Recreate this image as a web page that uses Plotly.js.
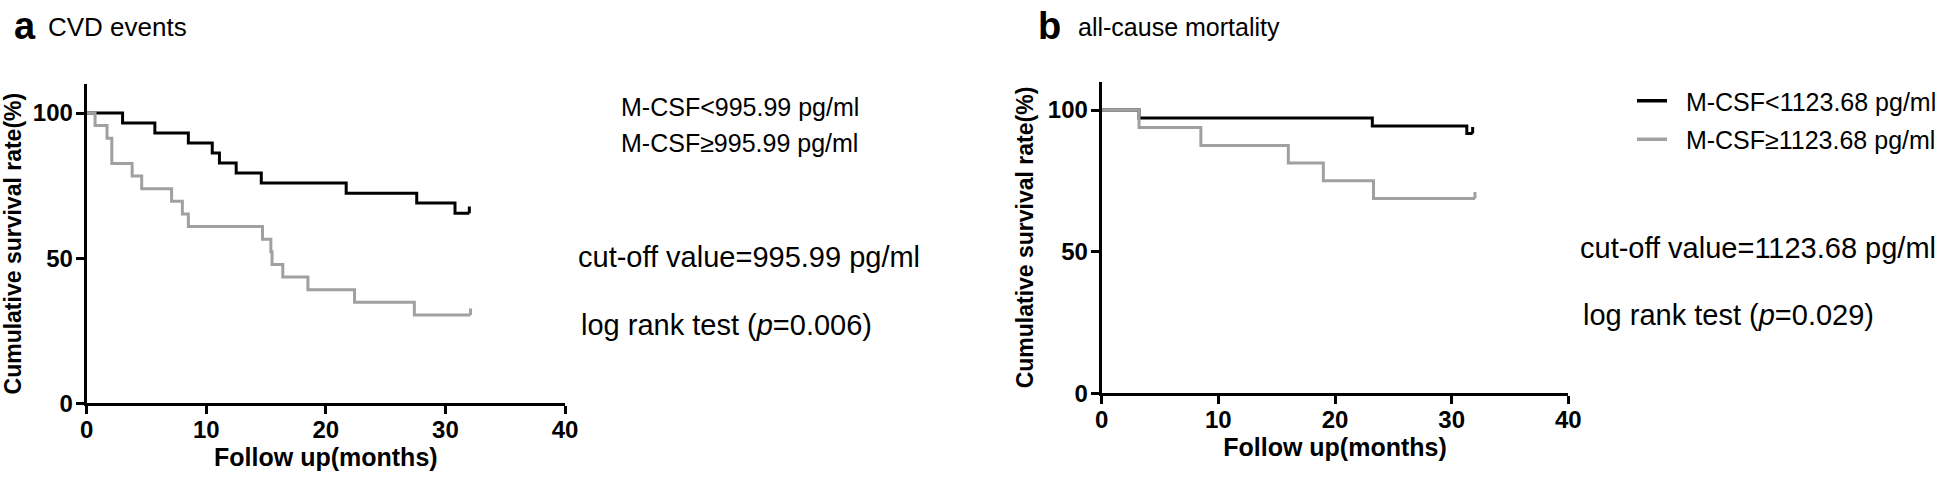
<!DOCTYPE html>
<html>
<head>
<meta charset="utf-8">
<script src="https://cdn.plot.ly/plotly-3.0.1.min.js"></script>
<style>
  html, body { margin: 0; padding: 0; background: #fff; }
  #chart { width: 1946px; height: 480px; }
</style>
</head>
<body>
<div id="chart"></div>
<script>
// Kaplan-Meier steps (months, survival %)
const cvdLowTimes = [3.0, 5.7, 8.5, 10.5, 11.1, 12.5, 14.6, 21.7, 27.6, 30.8];
const cvdLowSurv = [96.6, 93.1, 89.7, 86.2, 82.8, 79.3, 75.9, 72.4, 69.0, 65.5];
const cvdLowCensor = 32.0;

const cvdHighTimes = [0.7, 1.7, 2.1, 3.8, 4.6, 7.1, 8.0, 8.5, 14.7, 15.4, 15.5, 16.4, 18.5, 22.4, 27.4];
const cvdHighSurv = [95.7, 91.3, 82.6, 78.3, 73.9, 69.6, 65.2, 60.9, 56.5, 52.2, 47.8, 43.5, 39.1, 34.8, 30.4];
const cvdHighCensor = 32.1;

const morLowTimes = [3.2, 23.2, 31.3];
const morLowSurv = [97.2, 94.4, 91.7];
const morLowCensor = 31.8;

const morHighTimes = [3.2, 8.5, 16.0, 19.0, 23.3];
const morHighSurv = [93.8, 87.5, 81.3, 75.0, 68.8];
const morHighCensor = 32.0;

const xTicks = [0, 10, 20, 30, 40];
const yTicks = [0, 50, 100];

const BLACK = '#000000';
const GRAY = '#a0a0a0';
const FONT = 'Arial, "Liberation Sans", sans-serif';

function stepTrace(times, surv, censor, color, xa, ya) {
  const x = [0].concat(times, [censor]);
  const y = [100].concat(surv, [surv[surv.length - 1]]);
  return {
    x: x, y: y, xaxis: xa, yaxis: ya,
    type: 'scatter', mode: 'lines',
    line: { color: color, width: 3, shape: 'hv' },
    showlegend: false, hoverinfo: 'skip'
  };
}

// censored observation: short upward tick at the end of the curve
function censorTrace(censor, surv, color, xa, ya, name, inLegend) {
  return {
    x: [censor], y: [surv[surv.length - 1]], xaxis: xa, yaxis: ya,
    type: 'scatter', mode: 'lines',
    name: name, legendgroup: name,
    line: { color: color, width: 3.5 },
    error_y: { type: 'data', symmetric: false, array: [2.3], arrayminus: [0], thickness: 3, width: 0, color: color },
    showlegend: inLegend, cliponaxis: false
  };
}

const data = [
  stepTrace(cvdLowTimes, cvdLowSurv, cvdLowCensor, BLACK, 'x', 'y'),
  stepTrace(cvdHighTimes, cvdHighSurv, cvdHighCensor, GRAY, 'x', 'y'),
  censorTrace(cvdLowCensor, cvdLowSurv, BLACK, 'x', 'y', 'M-CSF&lt;995.99 pg/ml', false),
  censorTrace(cvdHighCensor, cvdHighSurv, GRAY, 'x', 'y', 'M-CSF≥995.99 pg/ml', false),
  stepTrace(morLowTimes, morLowSurv, morLowCensor, BLACK, 'x2', 'y2'),
  stepTrace(morHighTimes, morHighSurv, morHighCensor, GRAY, 'x2', 'y2'),
  censorTrace(morLowCensor, morLowSurv, BLACK, 'x2', 'y2', '\u00a0\u00a0M-CSF&lt;1123.68 pg/ml', true),
  censorTrace(morHighCensor, morHighSurv, GRAY, 'x2', 'y2', '\u00a0\u00a0M-CSF≥1123.68 pg/ml', true)
];

function xAxis(domain, anchor) {
  return {
    domain: domain, anchor: anchor, range: [0, 40],
    tickvals: xTicks, showgrid: false, zeroline: false,
    showline: true, linewidth: 3, linecolor: BLACK,
    ticks: 'outside', ticklen: 8, tickwidth: 3, tickcolor: BLACK,
    ticklabelstandoff: -5,
    tickfont: { family: FONT, size: 24, weight: 'bold', color: BLACK },
    title: { text: 'Follow up(months)', standoff: 0, font: { family: FONT, size: 25, weight: 'bold', color: BLACK } }
  };
}

function yAxis(domain, anchor) {
  return {
    domain: domain, anchor: anchor, range: [0, 110],
    tickvals: yTicks, showgrid: false, zeroline: false,
    showline: true, linewidth: 3, linecolor: BLACK,
    ticks: 'outside', ticklen: 8, tickwidth: 3, tickcolor: BLACK,
    ticklabelstandoff: -2,
    tickfont: { family: FONT, size: 24, weight: 'bold', color: BLACK },
    title: { text: 'Cumulative survival rate(%)', standoff: 8, font: { family: FONT, size: 23, weight: 'bold', color: BLACK } }
  };
}

function py(pix) { return 1 - pix / 480; }
function px(pix) { return pix / 1946; }

function note(x, y, text, size) {
  return {
    xref: 'paper', yref: 'paper', x: px(x), y: py(y),
    xanchor: 'left', yanchor: 'middle', showarrow: false,
    text: text, font: { family: FONT, size: size, color: BLACK }
  };
}

const annotations = [
  note(12, 26, '<b>a</b>', 38),
  note(46, 27, 'CVD events', 26),
  note(1036, 26, '<b>b</b>', 38),
  note(1076, 27, 'all-cause mortality', 25),
  note(619, 107, 'M-CSF&lt;995.99 pg/ml', 25),
  note(619, 143, 'M-CSF≥995.99 pg/ml', 25),
  note(576, 257, 'cut-off value=995.99 pg/ml', 29),
  note(579, 325, 'log rank test (<i>p</i>=0.006)', 29),
  note(1578, 248, 'cut-off value=1123.68 pg/ml', 29),
  note(1581, 315, 'log rank test (<i>p</i>=0.029)', 29)
];

const layout = {
  width: 1946, height: 480,
  margin: { l: 0, r: 0, t: 0, b: 0 },
  paper_bgcolor: '#ffffff', plot_bgcolor: '#ffffff',
  font: { family: FONT, color: BLACK },
  xaxis: xAxis([px(86.7), px(565)], 'y'),
  yaxis: yAxis([py(403.3), py(84)], 'x'),
  xaxis2: xAxis([px(1101.7), px(1568.3)], 'y2'),
  yaxis2: yAxis([py(393.3), py(81.7)], 'x2'),
  showlegend: true,
  legend: {
    x: px(1632), y: py(78), xanchor: 'left', yanchor: 'top',
    bgcolor: 'rgba(0,0,0,0)', borderwidth: 0,
    traceorder: 'grouped', tracegroupgap: 3,
    font: { family: FONT, size: 25, color: BLACK },
    itemwidth: 30
  },
  annotations: annotations
};

Plotly.newPlot('chart', data, layout, { staticPlot: true });
</script>
</body>
</html>
